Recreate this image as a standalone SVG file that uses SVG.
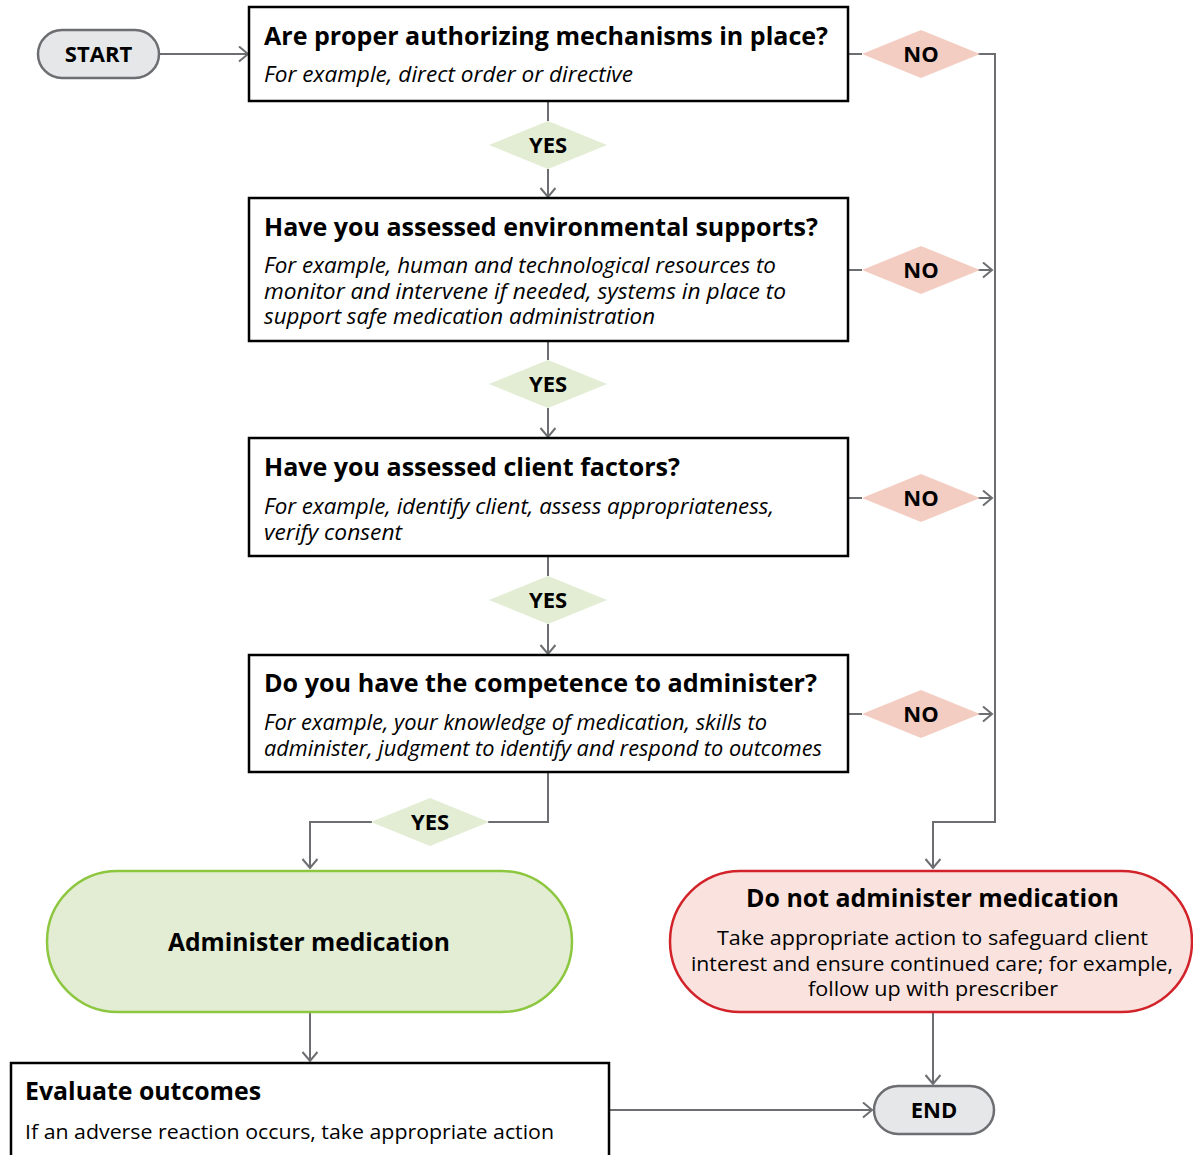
<svg xmlns="http://www.w3.org/2000/svg" width="1193" height="1155" viewBox="0 0 1193 1155">
<style>
.bg{fill:#ffffff}
.box{fill:#ffffff;stroke:#000000;stroke-width:2.5}
.term{fill:#e6e7e8;stroke:#6d6e71;stroke-width:2.5}
.yes{fill:#e3edd4}
.no{fill:#f3cdc2}
.conn{fill:none;stroke:#6d6e71;stroke-width:2}
.t{font-family:"Open Sans","Noto Sans","Liberation Sans",sans-serif;fill:#000000}
.title{font-size:24.5px;font-weight:bold}
.sub{font-size:21px;font-style:italic}
.body{font-size:20.5px}
.lab{font-size:22px;font-weight:bold;text-anchor:middle}
</style>
<defs>
<marker id="arr" markerUnits="userSpaceOnUse" markerWidth="20" markerHeight="20" refX="10" refY="8" orient="auto">
<path d="M1,0.5 L10,8 L1,15.5" fill="none" stroke="#6d6e71" stroke-width="2"/>
</marker>
</defs>
<rect class="bg" x="0" y="0" width="1193" height="1155"/>
<g id="connectors">
<path class="conn" d="M159,54 H248" marker-end="url(#arr)"/>
<path class="conn" d="M848,54 H862 M978,54 H995 V822 H933 V868" marker-end="url(#arr)"/>
<path class="conn" d="M548,101 V121"/>
<path class="conn" d="M548,169 V197" marker-end="url(#arr)"/>
<path class="conn" d="M848,270 H862"/>
<path class="conn" d="M978,270 H992" marker-end="url(#arr)"/>
<path class="conn" d="M548,341 V360"/>
<path class="conn" d="M548,408 V437" marker-end="url(#arr)"/>
<path class="conn" d="M848,498 H862"/>
<path class="conn" d="M978,498 H992" marker-end="url(#arr)"/>
<path class="conn" d="M548,556 V576"/>
<path class="conn" d="M548,624 V654" marker-end="url(#arr)"/>
<path class="conn" d="M848,714 H862"/>
<path class="conn" d="M978,714 H992" marker-end="url(#arr)"/>
<path class="conn" d="M548,772 V822 H488"/>
<path class="conn" d="M372,822 H310 V868" marker-end="url(#arr)"/>
<path class="conn" d="M310,1012 V1061" marker-end="url(#arr)"/>
<path class="conn" d="M609,1110 H872" marker-end="url(#arr)"/>
<path class="conn" d="M933,1012 V1084" marker-end="url(#arr)"/>
</g>
<g id="start">
<rect class="term" x="38" y="30" width="121" height="48" rx="24"/>
<text class="t lab" x="98.5" y="62">START</text>
</g>
<g id="q1">
<rect class="box" x="249" y="7" width="599" height="94"/>
<text class="t title" x="264" y="45" textLength="564" lengthAdjust="spacingAndGlyphs">Are proper authorizing mechanisms in place?</text>
<text class="t sub" x="264" y="82" textLength="369" lengthAdjust="spacingAndGlyphs">For example, direct order or directive</text>
</g>
<g id="no1">
<polygon class="no" points="862,54 921,30 980,54 921,78"/>
<text class="t lab" x="921" y="62">NO</text>
</g>
<g id="yes1">
<polygon class="yes" points="489,145 548,121 607,145 548,169"/>
<text class="t lab" x="548" y="153">YES</text>
</g>
<g id="q2">
<rect class="box" x="249" y="198" width="599" height="143"/>
<text class="t title" x="264" y="236" textLength="554" lengthAdjust="spacingAndGlyphs">Have you assessed environmental supports?</text>
<text class="t sub" x="264" y="273" textLength="512" lengthAdjust="spacingAndGlyphs">For example, human and technological resources to</text>
<text class="t sub" x="264" y="299" textLength="522" lengthAdjust="spacingAndGlyphs">monitor and intervene if needed, systems in place to</text>
<text class="t sub" x="264" y="324" textLength="391" lengthAdjust="spacingAndGlyphs">support safe medication administration</text>
</g>
<g id="no2">
<polygon class="no" points="862,270 921,246 980,270 921,294"/>
<text class="t lab" x="921" y="278">NO</text>
</g>
<g id="yes2">
<polygon class="yes" points="489,384 548,360 607,384 548,408"/>
<text class="t lab" x="548" y="392">YES</text>
</g>
<g id="q3">
<rect class="box" x="249" y="438" width="599" height="118"/>
<text class="t title" x="264" y="476" textLength="416" lengthAdjust="spacingAndGlyphs">Have you assessed client factors?</text>
<text class="t sub" x="264" y="514" textLength="510" lengthAdjust="spacingAndGlyphs">For example, identify client, assess appropriateness,</text>
<text class="t sub" x="264" y="540" textLength="138" lengthAdjust="spacingAndGlyphs">verify consent</text>
</g>
<g id="no3">
<polygon class="no" points="862,498 921,474 980,498 921,522"/>
<text class="t lab" x="921" y="506">NO</text>
</g>
<g id="yes3">
<polygon class="yes" points="489,600 548,576 607,600 548,624"/>
<text class="t lab" x="548" y="608">YES</text>
</g>
<g id="q4">
<rect class="box" x="249" y="655" width="599" height="117"/>
<text class="t title" x="264" y="692" textLength="553" lengthAdjust="spacingAndGlyphs">Do you have the competence to administer?</text>
<text class="t sub" x="264" y="730" textLength="503" lengthAdjust="spacingAndGlyphs">For example, your knowledge of medication, skills to</text>
<text class="t sub" x="264" y="756" textLength="558" lengthAdjust="spacingAndGlyphs">administer, judgment to identify and respond to outcomes</text>
</g>
<g id="no4">
<polygon class="no" points="862,714 921,690 980,714 921,738"/>
<text class="t lab" x="921" y="722">NO</text>
</g>
<g id="yes4">
<polygon class="yes" points="371,822 430,798 489,822 430,846"/>
<text class="t lab" x="430" y="830">YES</text>
</g>
<g id="administer">
<rect x="47" y="871" width="525" height="141" rx="70.5" fill="#e3edd4" stroke="#8dc63f" stroke-width="2.5"/>
<text class="t title" x="168" y="951" textLength="282" lengthAdjust="spacingAndGlyphs">Administer medication</text>
</g>
<g id="donot">
<rect x="670" y="871" width="522" height="141" rx="70.5" fill="#fae3de" stroke="#d2232a" stroke-width="2.5"/>
<text class="t title" x="746" y="907" textLength="373" lengthAdjust="spacingAndGlyphs">Do not administer medication</text>
<text class="t body" x="717" y="945" textLength="431" lengthAdjust="spacingAndGlyphs">Take appropriate action to safeguard client</text>
<text class="t body" x="691" y="971" textLength="482" lengthAdjust="spacingAndGlyphs">interest and ensure continued care; for example,</text>
<text class="t body" x="808" y="996" textLength="250" lengthAdjust="spacingAndGlyphs">follow up with prescriber</text>
</g>
<g id="evaluate">
<rect class="box" x="11" y="1063" width="598" height="110"/>
<text class="t title" x="25" y="1100" textLength="236" lengthAdjust="spacingAndGlyphs">Evaluate outcomes</text>
<text class="t body" x="25" y="1139" textLength="529" lengthAdjust="spacingAndGlyphs">If an adverse reaction occurs, take appropriate action</text>
</g>
<g id="end">
<rect class="term" x="874" y="1086" width="120" height="48" rx="24"/>
<text class="t lab" x="934" y="1118">END</text>
</g>
</svg>
